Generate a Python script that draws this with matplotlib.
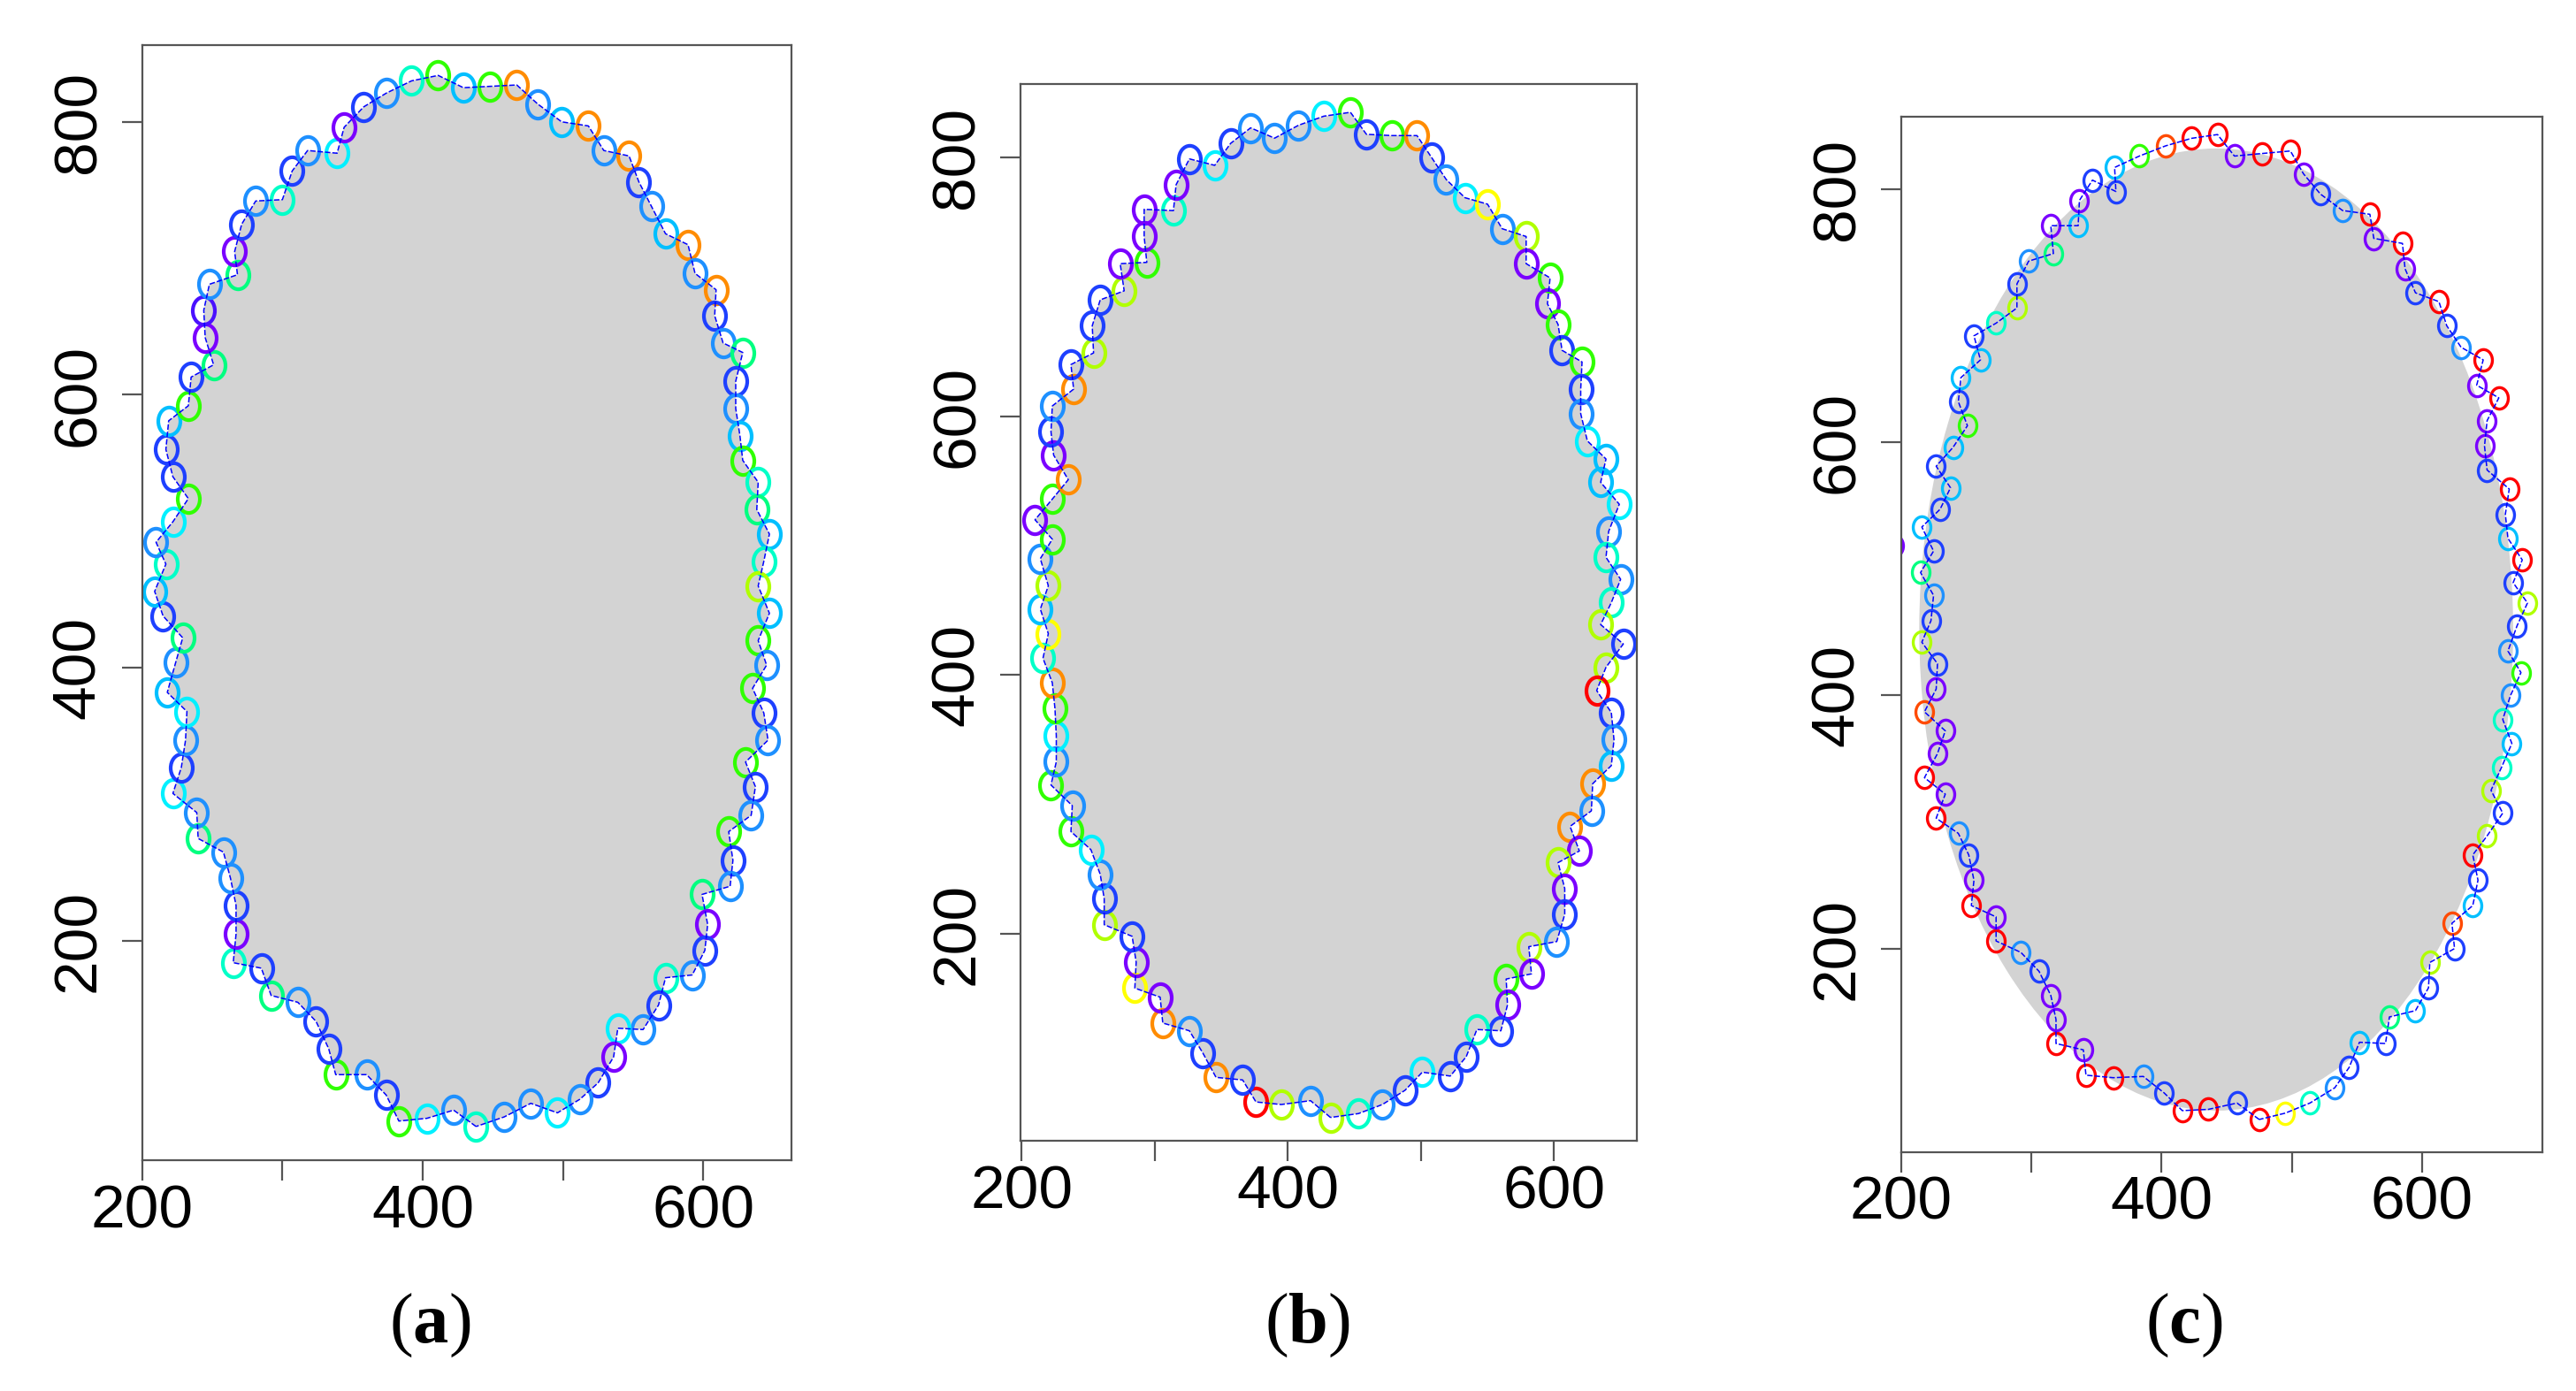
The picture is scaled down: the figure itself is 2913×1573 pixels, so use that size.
import numpy as np
import matplotlib
matplotlib.use("Agg")
import matplotlib.pyplot as plt
from matplotlib.path import Path
from matplotlib.transforms import Affine2D
from matplotlib.patches import Ellipse

plt.rcParams['font.family'] = ['Liberation Sans', 'DejaVu Sans']
plt.rcParams['mathtext.fontset'] = 'custom'
plt.rcParams['mathtext.rm'] = 'Liberation Serif'
plt.rcParams['mathtext.bf'] = 'Liberation Serif:bold'

# colour codes of the circles
palette = {'R': '#FF0000', 'E': '#FF4A00', 'O': '#FF8C00', 'Y': '#FFFF00',
           'C': '#B0FF00', 'G': '#30FF00', 'S': '#00FF80', 'T': '#00FFC8',
           'Q': '#00F0FF', 'D': '#00BFFF', 'L': '#1E90FF', 'B': '#1E40FF',
           'V': '#4A10FF', 'P': '#7A00FF'}

# panel (a): contour points, clockwise from the bottom
a_x = [438, 422, 403, 383, 374, 360, 338, 333, 324, 311, 292, 285, 265, 267, 267, 263, 258, 240, 239, 222,
       228, 231, 232, 218, 224, 229, 215, 209, 217, 210, 222, 233, 222, 217, 219, 233, 235, 251, 245, 244,
       248, 268, 266, 271, 281, 300, 307, 318, 339, 344, 358, 374, 392, 411, 429, 448, 467, 482, 499, 518,
       529, 547, 554, 563, 573, 589, 594, 609, 608, 614, 628, 623, 623, 626, 628, 639, 638, 647, 643, 639,
       647, 639, 645, 635, 643, 646, 630, 637, 634, 618, 621, 619, 599, 603, 601, 592, 573, 568, 557, 539,
       536, 525, 512, 496, 477, 458]
a_y = [64, 76, 70, 68, 87, 102, 102, 121, 141, 155, 160, 180, 184, 205, 226, 246, 265, 275, 294, 308,
       327, 347, 368, 382, 404, 422, 438, 456, 476, 492, 507, 524, 540, 560, 581, 592, 613, 622, 642, 662,
       681, 688, 705, 725, 742, 743, 764, 779, 777, 796, 811, 821, 830, 834, 825, 826, 827, 813, 800, 797,
       779, 775, 756, 738, 718, 710, 689, 677, 658, 638, 631, 610, 590, 570, 552, 536, 516, 498, 478, 460,
       440, 420, 402, 385, 367, 347, 331, 313, 292, 280, 259, 240, 234, 212, 193, 175, 173, 153, 135, 136,
       115, 96, 84, 74, 81, 71]
a_col = ("T L Q G B L G B B L S B T P B L L S L Q B L Q D L S B D T L Q G B B D G B S P V "
         "L S P B L T B L Q P B L T G D G O L D O L O B L D O L O B L S B L D G T S D T C "
         "D G L G B L G B L G B L S P B L T B L Q P B L Q L L").split()

# panel (b)
b_x = [432, 417, 395, 376, 366, 346, 336, 326, 306, 304, 285, 286, 283, 262, 262, 259, 252, 237, 238, 222,
       226, 226, 225, 223, 216, 220, 214, 220, 214, 223, 210, 223, 235, 224, 222, 223, 239, 237, 254, 253,
       259, 277, 274, 294, 292, 292, 314, 316, 326, 345, 357, 372, 390, 408, 427, 447, 459, 478, 497, 508,
       519, 533, 550, 561, 579, 579, 597, 595, 603, 606, 621, 620, 620, 625, 639, 635, 649, 641, 639, 650,
       643, 635, 652, 639, 632, 643, 645, 643, 629, 628, 612, 619, 603, 608, 608, 602, 581, 583, 564, 565,
       560, 542, 534, 522, 501, 488, 471, 453]
b_y = [58, 71, 68, 70, 87, 89, 108, 125, 131, 151, 158, 178, 198, 207, 227, 246, 265, 279, 299, 315,
       333, 353, 374, 394, 413, 432, 451, 469, 490, 505, 520, 536, 551, 570, 588, 608, 621, 640, 649, 670,
       690, 697, 718, 719, 739, 760, 759, 779, 799, 794, 811, 823, 815, 825, 832, 835, 818, 817, 817, 800,
       783, 769, 764, 745, 739, 718, 707, 687, 671, 651, 642, 621, 602, 581, 567, 549, 532, 511, 491, 474,
       456, 439, 424, 406, 388, 371, 350, 330, 316, 295, 283, 264, 255, 235, 215, 194, 190, 169, 165, 145,
       125, 126, 105, 90, 93, 79, 68, 61]
b_col = ("C L C R B O B L O P Y P B C B L Q G L G L Q G O T Y D C L G P G O P B L O B C B "
         "B C P G P P T P B Q B L L L Q G B G O B L Q Y L C P G P G B G B L Q D D Q L T L "
         "T C B C R B L D O L O P C P B L C P G P B T B B Q B L T").split()

# panel (c)
c_x = [475, 458, 436, 416, 402, 386, 363, 342, 340, 319, 319, 315, 306, 292, 273, 273, 254, 256, 252, 244,
       227, 234, 218, 228, 234, 218, 227, 228, 216, 223, 225, 215, 225, 216, 230, 238, 227, 240, 251, 244,
       246, 261, 256, 273, 289, 289, 298, 317, 315, 336, 337, 347, 365, 364, 383, 403, 423, 443, 456, 477,
       499, 509, 522, 539, 560, 563, 585, 587, 595, 613, 619, 630, 647, 642, 659, 650, 648, 650, 667, 664,
       666, 677, 670, 681, 673, 666, 676, 668, 662, 669, 661, 653, 662, 650, 639, 643, 639, 623, 625, 606,
       605, 595, 575, 572, 552, 544, 533, 514, 495]
c_y = [65, 78, 73, 72, 86, 99, 98, 100, 120, 125, 144, 163, 182, 197, 206, 225, 234, 254, 274, 291,
       303, 322, 335, 354, 372, 387, 405, 425, 442, 459, 479, 497, 514, 533, 547, 564, 581, 596, 613, 632,
       651, 665, 684, 694, 706, 725, 743, 749, 771, 771, 791, 807, 798, 817, 826, 834, 840, 843, 826, 828,
       830, 812, 796, 783, 780, 761, 757, 737, 718, 711, 692, 675, 665, 645, 635, 617, 597, 578, 563, 543,
       524, 507, 489, 473, 455, 435, 418, 400, 381, 362, 343, 325, 307, 289, 274, 254, 234, 220, 200, 189,
       169, 151, 146, 125, 126, 106, 90, 78, 70]
c_col = ("R B R R B L R R P R P P B L R P R P B L R P R P P E P B C B L S B D B D B D G B "
         "D D B T C B L S P D P B B D G E R R P R R P B L R P R P B R B L R P R P P B R B "
         "D R B C B L G L T D T C B C R B D E B C B D S B D B L T Y").split()
c_stray_x = [195]
c_stray_y = [518]
c_stray_col = ['P']

# gray region of panel (c): centre x, centre y, width, height
c_region = (442, 452, 456, 760)

panel_labels = ['a', 'b', 'c']
x_ticks = [200, 300, 400, 500, 600]
x_ticklabels = ['200', '', '400', '', '600']
y_ticks = [200, 400, 600, 800]

boxes = [(0.05513, 0.16611, 0.25211, 0.80146),
         (0.39626, 0.17991, 0.23907, 0.75982),
         (0.73797, 0.17190, 0.24906, 0.74412)]
xlims = [(200, 662.7), (199.3, 662), (200, 692.6)]
ylims = [(39.5, 856.2), (40, 857), (39.4, 857)]
label_x = [486 / 2913, 1478 / 2913, 2470 / 2913]


def oval(ratio):
    return Path.unit_circle().transformed(Affine2D().scale(ratio, 1.0))


fig = plt.figure(figsize=(29.13, 15.73), dpi=100)

panels = [(a_x, a_y, a_col), (b_x, b_y, b_col), (c_x, c_y, c_col)]
for i, (px, py, pc) in enumerate(panels):
    ax = fig.add_axes(boxes[i])
    px = np.array(px)
    py = np.array(py)
    if i < 2:
        ax.fill(px, py, color='#D3D3D3', lw=0, zorder=1)
        mk, ms, mew = oval(0.8), 22.5, 3.0
    else:
        ax.add_patch(Ellipse(c_region[:2], c_region[2], c_region[3],
                             color='#D3D3D3', lw=0, zorder=1))
        mk, ms, mew = oval(0.82), 17.5, 2.4
    colors = [palette[k] for k in pc]
    for xx, yy, cc in zip(px, py, colors):
        ax.plot(xx, yy, marker=mk, ms=ms, mew=mew, mfc='none', mec=cc,
                ls='none', zorder=2)
    if i == 2:
        for xx, yy, k in zip(c_stray_x, c_stray_y, c_stray_col):
            ax.plot(xx, yy, marker=mk, ms=ms, mew=mew, mfc='none',
                    mec=palette[k], ls='none', zorder=2)
    ax.plot(np.append(px, px[0]), np.append(py, py[0]), color='#0000FF',
            lw=1.1, ls=(0, (4, 1.5)), zorder=3)

    ax.set_xlim(*xlims[i])
    ax.set_ylim(*ylims[i])
    ax.set_xticks(x_ticks)
    ax.set_xticklabels(x_ticklabels)
    ax.set_yticks(y_ticks)
    ax.set_yticklabels([str(t) for t in y_ticks], rotation=90, va='center')
    for s in ax.spines.values():
        s.set_color('#555555')
        s.set_linewidth(1.6)
    ax.tick_params(axis='both', length=16.5, width=1.6, color='#555555',
                   labelsize=50, labelcolor='black')
    ax.tick_params(axis='x', pad=2.5)
    ax.tick_params(axis='y', pad=12)

    fig.text(label_x[i], 0.047, r'($\mathbf{%s}$)' % panel_labels[i],
             fontsize=58, family='Liberation Serif', ha='center', va='center')

fig.savefig('out.png', dpi=100)
